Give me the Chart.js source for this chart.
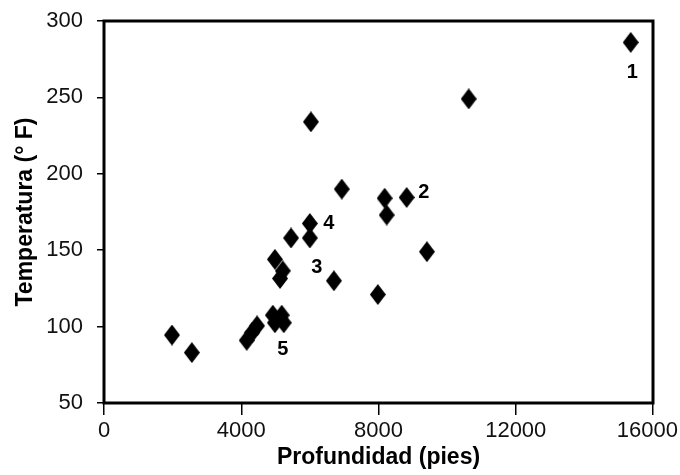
<!DOCTYPE html>
<html lang="es">
<head>
<meta charset="utf-8">
<title>Temperatura vs profundidad</title>
<script src="https://cdn.jsdelivr.net/npm/chart.js@4"></script>
<style>
  html, body { margin: 0; padding: 0; background: #fff; }
  #wrap { width: 680px; height: 475px; position: relative; }
</style>
</head>
<body>
<div id="wrap"><canvas id="grafico"></canvas></div>
<script>
// Profundidad (pies) y temperatura (°F) de cada pozo
const profundidad = [
  15350, 10630, 6030, 6930, 8180, 8240, 8820, 9410,
  6000, 6000, 5450, 4980, 5210, 5130, 6700, 7980,
  1980, 2560, 4160, 4310, 4460, 4920, 5180, 4980, 5240
];
const temperatura = [
  286, 249, 234, 190, 184, 173, 184.5, 149,
  167.5, 158, 158, 144, 136.5, 131.5, 130, 121,
  94.5, 83, 91, 96, 100.5, 107.5, 107.5, 102.5, 102.5
];

// Marcas numeradas junto a algunos pozos
const marcaTexto = ['1', '2', '3', '4', '5'];
const marcaX = [15400, 9320, 6200, 6550, 5210];
const marcaY = [266, 188, 138.5, 167.5, 85];

const ticksX = [0, 4000, 8000, 12000, 16000];
const ticksY = [50, 100, 150, 200, 250, 300];

const fuente = '"Liberation Sans", Arial, Helvetica, sans-serif';

// Rombo negro algo más alto que ancho
function crearRombo(w, h) {
  const c = document.createElement('canvas');
  c.width = w;
  c.height = h;
  const g = c.getContext('2d');
  g.fillStyle = '#000';
  g.beginPath();
  g.moveTo(w / 2, 0);
  g.lineTo(w, h / 2);
  g.lineTo(w / 2, h);
  g.lineTo(0, h / 2);
  g.closePath();
  g.fill();
  return c;
}
const rombo = crearRombo(16, 21);

// Marco completo, etiquetas del eje x (la última no debe salirse del lienzo)
// y números de las marcas
const marcoYNumeros = {
  id: 'marcoYNumeros',
  afterDatasetsDraw(chart) {
    const { ctx, chartArea, scales, width } = chart;
    ctx.save();
    ctx.strokeStyle = '#000';
    ctx.lineWidth = 3;
    ctx.strokeRect(chartArea.left, chartArea.top,
      chartArea.right - chartArea.left, chartArea.bottom - chartArea.top);

    ctx.fillStyle = '#111';
    ctx.font = '22px ' + fuente;
    ctx.textBaseline = 'top';
    ctx.textAlign = 'left';
    ticksX.forEach((v) => {
      const txt = String(v);
      const w = ctx.measureText(txt).width;
      let x = scales.x.getPixelForValue(v) - w / 2;
      x = Math.min(x, width - 2 - w);
      ctx.fillText(txt, x, chartArea.bottom + 17);
    });

    ctx.fillStyle = '#000';
    ctx.font = 'bold 20px ' + fuente;
    ctx.textAlign = 'center';
    ctx.textBaseline = 'middle';
    marcaTexto.forEach((t, i) => {
      ctx.fillText(t, scales.x.getPixelForValue(marcaX[i]), scales.y.getPixelForValue(marcaY[i]));
    });
    ctx.restore();
  }
};

new Chart(document.getElementById('grafico'), {
  type: 'scatter',
  data: {
    datasets: [{
      data: profundidad.map((x, i) => ({ x: x, y: temperatura[i] })),
      pointStyle: rombo,
      backgroundColor: '#000',
      borderColor: '#000'
    }]
  },
  options: {
    responsive: true,
    maintainAspectRatio: false,
    animation: false,
    layout: { padding: { top: 21, right: 27, left: 0, bottom: 0 } },
    plugins: {
      legend: { display: false },
      tooltip: { enabled: false }
    },
    scales: {
      x: {
        type: 'linear',
        min: 0,
        max: 16000,
        afterBuildTicks: (s) => { s.ticks = ticksX.map(v => ({ value: v })); },
        afterFit: (s) => { s.height = 72; s.paddingLeft = 0; s.paddingRight = 0; },
        border: { display: false },
        grid: { drawOnChartArea: false, drawTicks: true, tickLength: 12, color: '#000', lineWidth: 1.5 },
        ticks: { display: false },
        title: {
          display: true,
          text: 'Profundidad (pies)',
          color: '#000',
          font: { family: fuente, size: 23, weight: 'bold' },
          padding: { top: 0, bottom: 4 }
        }
      },
      y: {
        type: 'linear',
        min: 50,
        max: 300,
        afterBuildTicks: (s) => { s.ticks = ticksY.map(v => ({ value: v })); },
        afterFit: (s) => { s.width = 104; s.paddingTop = 0; s.paddingBottom = 0; },
        border: { display: false },
        grid: { drawOnChartArea: false, drawTicks: true, tickLength: 7, color: '#000', lineWidth: 1.5 },
        ticks: {
          color: '#111', padding: 14,
          font: { family: fuente, size: 22 },
          callback: (v) => String(v)
        },
        title: {
          display: true,
          text: 'Temperatura (° F)',
          color: '#000',
          font: { family: fuente, size: 23, weight: 'bold' },
          padding: { top: 12, bottom: 0 }
        }
      }
    }
  },
  plugins: [marcoYNumeros]
});
</script>
</body>
</html>
